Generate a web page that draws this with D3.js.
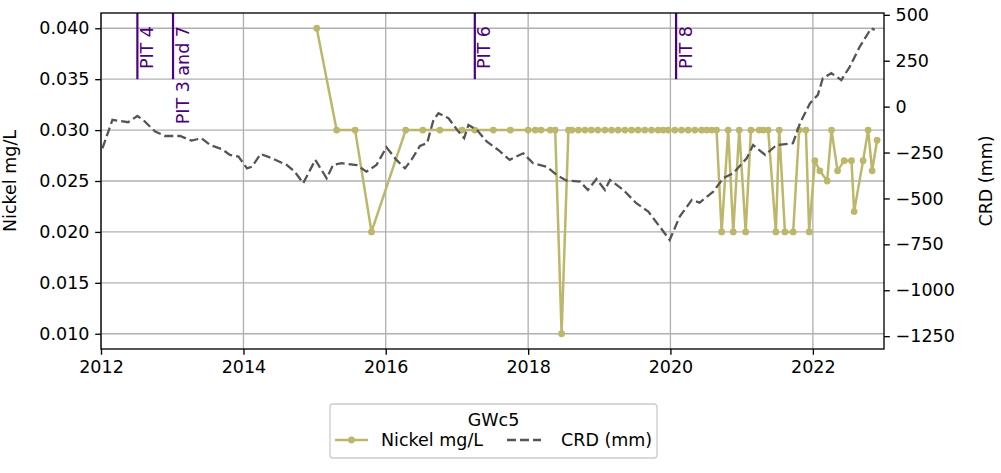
<!DOCTYPE html>
<html><head><meta charset="utf-8">
<script src="https://cdn.jsdelivr.net/npm/d3@7/dist/d3.min.js"></script>
<style>body{margin:0;background:#fff} text{font-family:"DejaVu Sans",sans-serif}</style>
</head><body><svg id="c" width="1001" height="473"></svg>
<script>
// ---- data (dates as decimal years) ----
const nickelDates = [2015.03,2015.31,2015.57,2015.80,2016.28,2016.52,2016.76,2017.07,2017.25,2017.51,2017.75,
  2018.00,2018.10,2018.18,2018.31,2018.38,2018.47,2018.566,2018.615,2018.706,2018.798,2018.889,2018.980,
  2019.079,2019.173,2019.265,2019.360,2019.454,2019.546,2019.640,2019.734,2019.827,2019.897,2019.968,
  2020.062,2020.156,2020.249,2020.343,2020.437,2020.507,2020.577,2020.647,2020.718,2020.810,2020.881,
  2020.965,2021.055,2021.129,2021.246,2021.302,2021.372,2021.480,2021.527,2021.607,2021.723,2021.807,
  2021.902,2021.948,2022.028,2022.098,2022.201,2022.262,2022.347,2022.440,2022.543,2022.580,2022.706,
  2022.777,2022.833,2022.903];
const nickelValues = [0.040,0.030,0.030,0.020,0.030,0.030,0.030,0.030,0.030,0.030,0.030,
  0.030,0.030,0.030,0.030,0.030,0.010,0.030,0.030,0.030,0.030,0.030,0.030,
  0.030,0.030,0.030,0.030,0.030,0.030,0.030,0.030,0.030,0.030,0.030,
  0.030,0.030,0.030,0.030,0.030,0.030,0.030,0.030,0.020,0.030,0.020,
  0.030,0.020,0.030,0.030,0.030,0.030,0.020,0.030,0.020,0.020,0.030,
  0.030,0.020,0.027,0.026,0.025,0.030,0.026,0.027,0.027,0.022,0.027,
  0.030,0.026,0.029];
const crdDates = [2012.02,2012.16,2012.38,2012.51,2012.59,2012.76,2012.90,2013.11,2013.27,2013.41,2013.53,
  2013.70,2013.81,2013.93,2014.05,2014.12,2014.24,2014.40,2014.61,2014.72,2014.84,2015.01,2015.17,2015.26,
  2015.38,2015.59,2015.73,2015.87,2016.01,2016.15,2016.27,2016.36,2016.48,2016.58,2016.67,2016.74,2016.88,
  2017.02,2017.10,2017.16,2017.28,2017.42,2017.58,2017.74,2017.93,2018.07,2018.26,2018.40,2018.54,2018.73,
  2018.84,2018.96,2019.08,2019.15,2019.34,2019.52,2019.69,2019.85,2019.99,2020.13,2020.30,2020.41,2020.60,
  2020.74,2020.88,2021.07,2021.16,2021.33,2021.49,2021.72,2021.82,2021.96,2022.07,2022.14,2022.26,2022.40,
  2022.52,2022.66,2022.82,2022.87];
const crdValues = [-227,-72,-85,-51,-72,-136,-160,-160,-185,-172,-209,
  -232,-263,-272,-336,-327,-258,-281,-318,-354,-417,-290,-390,-318,
  -308,-318,-354,-318,-221,-290,-336,-290,-214,-199,-72,-36,-63,
  -136,-172,-100,-127,-191,-236,-290,-254,-308,-327,-372,-403,-408,
  -454,-394,-454,-399,-454,-526,-572,-654,-726,-599,-508,-523,-463,
  -390,-363,-281,-209,-263,-209,-199,-90,19,64,155,182,145,
  218,327,427,418];
const pitDates = [2012.51,2013.01,2017.25,2020.08];
const pitLabels = ["PIT 4","PIT 3 and 7","PIT 6","PIT 8"];
const xTickYears = [2012,2014,2016,2018,2020,2022];
const leftTicks = [0.010,0.015,0.020,0.025,0.030,0.035,0.040];
const rightTicks = [500,250,0,-250,-500,-750,-1000,-1250];
const seriesNames = ["Nickel mg/L","CRD (mm)"];
const legendTitle = "GWc5";

// ---- helpers ----
function dy(y){const yr=Math.floor(y);const s=Date.UTC(yr,0,1),e=Date.UTC(yr+1,0,1);return new Date(s+(y-yr)*(e-s));}

const W=1001,H=473, m={l:101,r:884,t:13,b:349};
const FS=17.5;
const nickelColor="#bdb76b", crdColor="#555555", pitColor="#4b0082";
const svg=d3.select("#c");

const x=d3.scaleUtc().domain([dy(2012),dy(2023)]).range([m.l,m.r]);
const yL=d3.scaleLinear().domain([0.0085,0.0415]).range([m.b,m.t]);
const yR=d3.scaleLinear().domain([-1320,510]).range([m.b,m.t]);

// grid
const g=svg.append("g");
g.selectAll(".vg").data(xTickYears).join("line")
  .attr("x1",d=>x(dy(d))).attr("x2",d=>x(dy(d))).attr("y1",m.t).attr("y2",m.b)
  .attr("stroke","#b0b0b0").attr("stroke-width",1.33);
g.selectAll(".hg").data(leftTicks).join("line")
  .attr("x1",m.l).attr("x2",m.r).attr("y1",d=>yL(d)).attr("y2",d=>yL(d))
  .attr("stroke","#b0b0b0").attr("stroke-width",1.33);

const clip=svg.append("clipPath").attr("id","pc").append("rect")
  .attr("x",m.l).attr("y",m.t).attr("width",m.r-m.l).attr("height",m.b-m.t);
const plot=svg.append("g").attr("clip-path","url(#pc)");

// PIT lines
plot.selectAll(".pit").data(pitDates).join("line")
  .attr("x1",d=>x(dy(d))).attr("x2",d=>x(dy(d))).attr("y1",m.t).attr("y2",yL(0.035))
  .attr("stroke",pitColor).attr("stroke-width",2.2);
plot.selectAll(".pitt").data(pitDates).join("text")
  .attr("transform",d=>`translate(${x(dy(d))+15.5},26) rotate(-90)`)
  .attr("text-anchor","end").attr("font-size",FS).attr("fill",pitColor)
  .text((d,i)=>pitLabels[i]);

// Nickel
const nk=nickelDates.map((d,i)=>({d:dy(d),v:nickelValues[i]}));
plot.append("path").datum(nk)
  .attr("d",d3.line().x(d=>x(d.d)).y(d=>yL(d.v)))
  .attr("fill","none").attr("stroke",nickelColor).attr("stroke-width",2.5).attr("stroke-linejoin","round");
plot.selectAll(".nd").data(nk).join("circle")
  .attr("cx",d=>x(d.d)).attr("cy",d=>yL(d.v)).attr("r",3.4).attr("fill",nickelColor);

// CRD
const cr=crdDates.map((d,i)=>({d:dy(d),v:crdValues[i]}));
plot.append("path").datum(cr)
  .attr("d",d3.line().x(d=>x(d.d)).y(d=>yR(d.v)))
  .attr("fill","none").attr("stroke",crdColor).attr("stroke-width",2.3)
  .attr("stroke-dasharray","9,4");

// axes
const xa=svg.append("g").attr("transform",`translate(0,${m.b})`)
  .call(d3.axisBottom(x).tickValues(xTickYears.map(dy)).tickFormat(d3.utcFormat("%Y")).tickSize(5.8).tickPadding(5.8));
const la=svg.append("g").attr("transform",`translate(${m.l},0)`)
  .call(d3.axisLeft(yL).tickValues(leftTicks).tickFormat(d3.format(".3f")).tickSize(5.8).tickPadding(5.8));
const ra=svg.append("g").attr("transform",`translate(${m.r},0)`)
  .call(d3.axisRight(yR).tickValues(rightTicks).tickFormat(d=>d3.format("d")(d).replace("-","\u2212")).tickSize(5.8).tickPadding(5.8));
[xa,la,ra].forEach(a=>{
  a.select(".domain").remove();
  a.selectAll(".tick line").attr("stroke","#000").attr("stroke-width",1.33);
  a.selectAll(".tick text").attr("font-size",FS).attr("fill","#000").attr("font-family","DejaVu Sans");
});
// frame
svg.append("rect").attr("x",m.l).attr("y",m.t).attr("width",m.r-m.l).attr("height",m.b-m.t)
  .attr("fill","none").attr("stroke","#000").attr("stroke-width",1.33);

// axis labels
svg.append("text").attr("transform",`translate(16,${(m.t+m.b)/2}) rotate(-90)`)
  .attr("text-anchor","middle").attr("font-size",FS).text(seriesNames[0]);
svg.append("text").attr("transform",`translate(992,${(m.t+m.b)/2}) rotate(-90)`)
  .attr("text-anchor","middle").attr("font-size",FS).text(seriesNames[1]);

// legend
const lg=svg.append("g");
lg.append("rect").attr("x",330).attr("y",404).attr("width",327).attr("height",54).attr("rx",3)
  .attr("fill","#fff").attr("stroke","#cccccc").attr("stroke-width",1.33);
lg.append("text").attr("x",493.5).attr("y",426).attr("text-anchor","middle").attr("font-size",FS).text(legendTitle);
lg.append("line").attr("x1",335).attr("x2",368).attr("y1",440).attr("y2",440).attr("stroke",nickelColor).attr("stroke-width",2.5);
lg.append("circle").attr("cx",351.5).attr("cy",440).attr("r",3.4).attr("fill",nickelColor);
lg.append("text").attr("x",381).attr("y",446).attr("font-size",FS).text(seriesNames[0]);
lg.append("line").attr("x1",507).attr("x2",541).attr("y1",440).attr("y2",440).attr("stroke",crdColor).attr("stroke-width",2.3).attr("stroke-dasharray","9,4");
lg.append("text").attr("x",561).attr("y",446).attr("font-size",FS).text(seriesNames[1]);
</script></body></html>
